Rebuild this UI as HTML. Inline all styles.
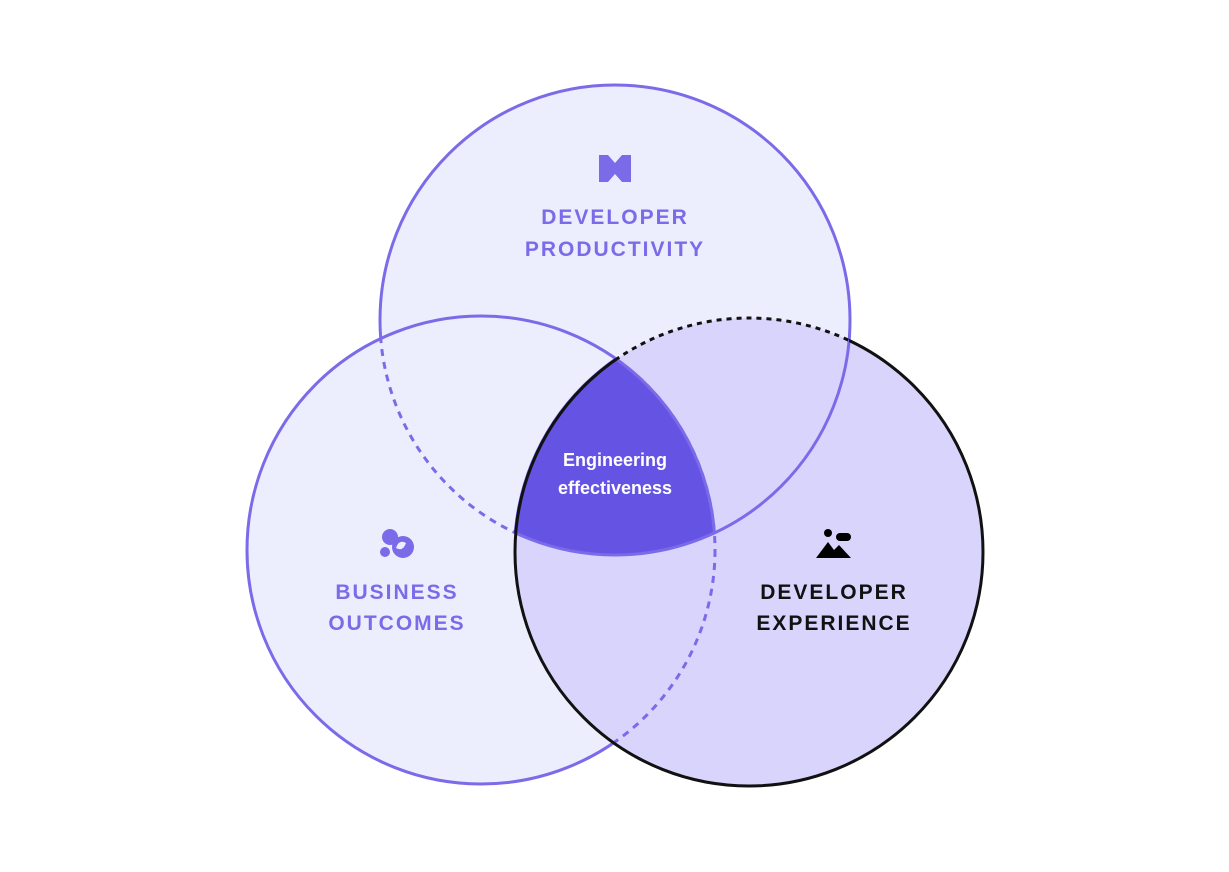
<!DOCTYPE html>
<html><head><style>body{margin:0;background:#fff}svg{display:block}</style></head><body>
<svg width="1229" height="872" viewBox="0 0 1229 872" xmlns="http://www.w3.org/2000/svg">
<defs>
<clipPath id="cL"><circle cx="481" cy="550" r="234"/></clipPath>
<clipPath id="cR"><circle cx="749" cy="552" r="234"/></clipPath>
<clipPath id="cT"><circle cx="615" cy="320" r="235"/></clipPath>
<mask id="mDash"><rect width="1229" height="872" fill="#000"/><circle cx="615" cy="320" r="235" fill="#fff"/><circle cx="481" cy="550" r="234" fill="#000"/></mask>
<mask id="mSolid"><rect width="1229" height="872" fill="#fff"/><circle cx="615" cy="320" r="235" fill="#000"/><circle cx="481" cy="550" r="234" fill="#fff"/></mask>
</defs>
<circle cx="615" cy="320" r="235" fill="#edeefd" stroke="#7b6be9" stroke-width="3"/>
<circle cx="481" cy="550" r="234" fill="#edeefd"/>
<circle cx="615" cy="320" r="235" fill="none" stroke="#7b6be9" stroke-width="3" stroke-dasharray="7 6" clip-path="url(#cL)"/>
<circle cx="481" cy="550" r="234" fill="none" stroke="#7b6be9" stroke-width="3"/>
<circle cx="749" cy="552" r="234" fill="#d8d4fc"/>
<circle cx="481" cy="550" r="234" fill="none" stroke="#7b6be9" stroke-width="3" stroke-dasharray="7 6" clip-path="url(#cR)"/>
<g clip-path="url(#cT)"><g clip-path="url(#cL)"><circle cx="749" cy="552" r="236" fill="#6553e3"/></g></g>
<g clip-path="url(#cT)"><circle cx="481" cy="550" r="234" fill="none" stroke="#7b6be9" stroke-width="3" clip-path="url(#cR)"/></g>
<circle cx="615" cy="320" r="235" fill="none" stroke="#7b6be9" stroke-width="3" clip-path="url(#cR)"/>
<circle cx="749" cy="552" r="234" fill="none" stroke="#111" stroke-width="3" mask="url(#mSolid)"/>
<circle cx="749" cy="552" r="234" fill="none" stroke="#111" stroke-width="3" stroke-dasharray="5 5" mask="url(#mDash)"/>
<!-- icons -->
<path d="M599 155 h9 l7 8 l7 -8 h9 v27 h-9 l-7 -8 l-7 8 h-9z" fill="#7b6be9"/>
<path d="M610 155 l5 -6 l5 6z M610 182 l5 6 l5 -6z" fill="#edeefd"/>
<circle cx="390" cy="537" r="8" fill="#7b6be9"/><circle cx="403" cy="547" r="11" fill="#7b6be9"/><circle cx="385" cy="552" r="5" fill="#7b6be9"/>
<path d="M396 548 q3 -9 10 -5 q-3 9 -10 5z" fill="#edeefd"/>
<circle cx="828" cy="533" r="4" fill="#000"/><rect x="836" y="533" width="15" height="8" rx="4" fill="#000"/>
<path d="M816 558 l12 -16 l6 8 l5 -5 l12 13z" fill="#000"/>
<g font-family="Liberation Sans, sans-serif" font-weight="bold" font-size="21" letter-spacing="2" text-anchor="middle">
<text x="615" y="224" fill="#7b6be9">DEVELOPER</text>
<text x="615" y="256" fill="#7b6be9">PRODUCTIVITY</text>
<text x="397" y="599" fill="#7b6be9">BUSINESS</text>
<text x="397" y="630" fill="#7b6be9">OUTCOMES</text>
<text x="834" y="599" fill="#111">DEVELOPER</text>
<text x="834" y="630" fill="#111">EXPERIENCE</text>
</g>
<g font-family="Liberation Sans, sans-serif" font-size="18" font-weight="bold" fill="#fff" text-anchor="middle">
<text x="615" y="466">Engineering</text>
<text x="615" y="494">effectiveness</text>
</g>
</svg>
</body></html>
